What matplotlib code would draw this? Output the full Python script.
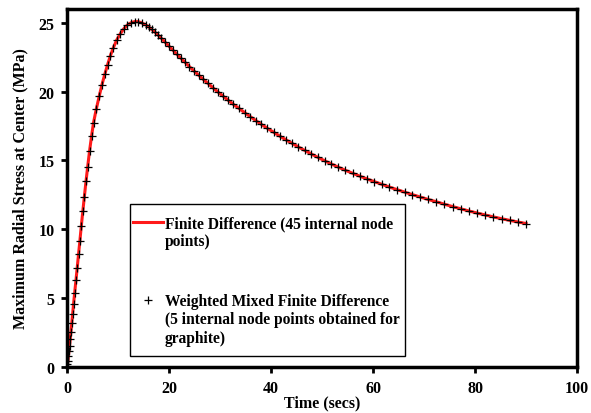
import matplotlib.pyplot as plt
from matplotlib.patches import Rectangle

# time (s) and maximum radial stress at centre (MPa)
time = [0, 0.08, 0.17, 0.28, 0.39, 0.5, 0.63, 0.76, 0.93, 1.1, 1.28, 1.5, 1.75, 2.0, 2.26,
        2.52, 2.8, 3.1, 3.4, 3.73, 4.05, 4.42, 4.8, 5.2, 5.75, 6.3, 6.85, 7.4, 7.95, 8.5,
        9.1, 9.75, 10.45, 11.15, 11.85, 12.55, 13.25, 13.95, 14.65, 15.4, 16.0, 16.6, 17.2,
        17.8, 18.5, 19.2, 19.9, 20.7, 21.5, 22.3, 23.1, 24.0, 24.9, 25.8, 26.7, 27.6, 28.6,
        29.6, 30.6, 31.6, 32.6, 33.7, 34.8, 35.9, 37.0, 38.1, 39.3, 40.5, 41.7, 42.9, 44.1,
        45.3, 46.6, 47.9, 49.2, 50.5, 51.8, 53.2, 54.6, 56.0, 57.4, 58.8, 60.2, 61.7, 63.2,
        64.7, 66.2, 67.7, 69.2, 70.8, 72.4, 74.0, 75.6, 77.2, 78.8, 80.4, 82.0, 83.6, 85.2,
        86.8, 88.4, 90.0]
stress = [0, 0.22, 0.46, 0.83, 1.19, 1.55, 2.04, 2.53, 3.18, 3.86, 4.57, 5.39, 6.29, 7.22,
          8.19, 9.16, 10.23, 11.32, 12.37, 13.51, 14.55, 15.69, 16.74, 17.75, 18.75, 19.65,
          20.5, 21.25, 21.95, 22.6, 23.2, 23.75, 24.2, 24.57, 24.84, 25.0, 25.08, 25.08,
          24.99, 24.85, 24.7, 24.52, 24.33, 24.12, 23.87, 23.6, 23.33, 23.03, 22.72, 22.43,
          22.14, 21.81, 21.5, 21.19, 20.89, 20.6, 20.28, 19.97, 19.67, 19.37, 19.08, 18.78,
          18.48, 18.19, 17.9, 17.62, 17.33, 17.05, 16.77, 16.5, 16.25, 15.99, 15.73, 15.47,
          15.22, 14.98, 14.75, 14.51, 14.28, 14.07, 13.86, 13.66, 13.47, 13.27, 13.07, 12.88,
          12.7, 12.52, 12.35, 12.17, 12.0, 11.82, 11.65, 11.49, 11.33, 11.18, 11.04, 10.9,
          10.77, 10.65, 10.53, 10.42]

xticks = [0, 20, 40, 60, 80, 100]
yticks = [0, 5, 10, 15, 20, 25]

plt.rcParams['font.family'] = 'Liberation Serif'
plt.rcParams['font.weight'] = 'bold'
plt.rcParams['font.size'] = 11.5

fig = plt.figure(figsize=(5.91, 4.14), dpi=100)
ax = fig.add_axes([0.1134, 0.111, 0.863, 0.865])

ax.plot(time, stress, color='#ff1a1a', lw=2.2, zorder=2,
        label='Finite Difference (45 internal node\npoints)')
ax.plot(time, stress, ls='none', marker='+', color='black', ms=6, mew=0.9, zorder=3,
        label='Weighted Mixed Finite Difference\n(5 internal node points obtained for\ngraphite)')

ax.set_xlim(0, 100)
ax.set_ylim(0, 26)
ax.set_xticks(xticks)
ax.set_yticks(yticks)
ax.tick_params(direction='out', length=4, width=2, labelsize=11.5)
ax.tick_params(axis='x', pad=5)
ax.tick_params(axis='y', pad=5)
for s in ax.spines.values():
    s.set_linewidth(2.5)

ax.set_xlabel('Time (secs)', fontweight='bold', labelpad=-1)
ax.set_ylabel('Maximum Radial Stress at Center (MPa)', fontweight='bold', labelpad=7)

# legend box drawn separately so the side padding can be tight
ax.add_patch(Rectangle((0.1235, 0.0307), 0.5392, 0.4246, transform=ax.transAxes,
                       fill=False, edgecolor='black', lw=1.0, zorder=4))
leg = ax.legend(loc='upper left', bbox_to_anchor=(0.1294, 0.4246), frameon=False,
                borderpad=0, labelspacing=2.8, handlelength=1.9, handleheight=1.25,
                handletextpad=0.15, borderaxespad=0, fontsize=11.2)
for col in leg._legend_handle_box.get_children():
    for row in col.get_children():
        row.align = 'top'

fig.savefig('out.png', dpi=100)
